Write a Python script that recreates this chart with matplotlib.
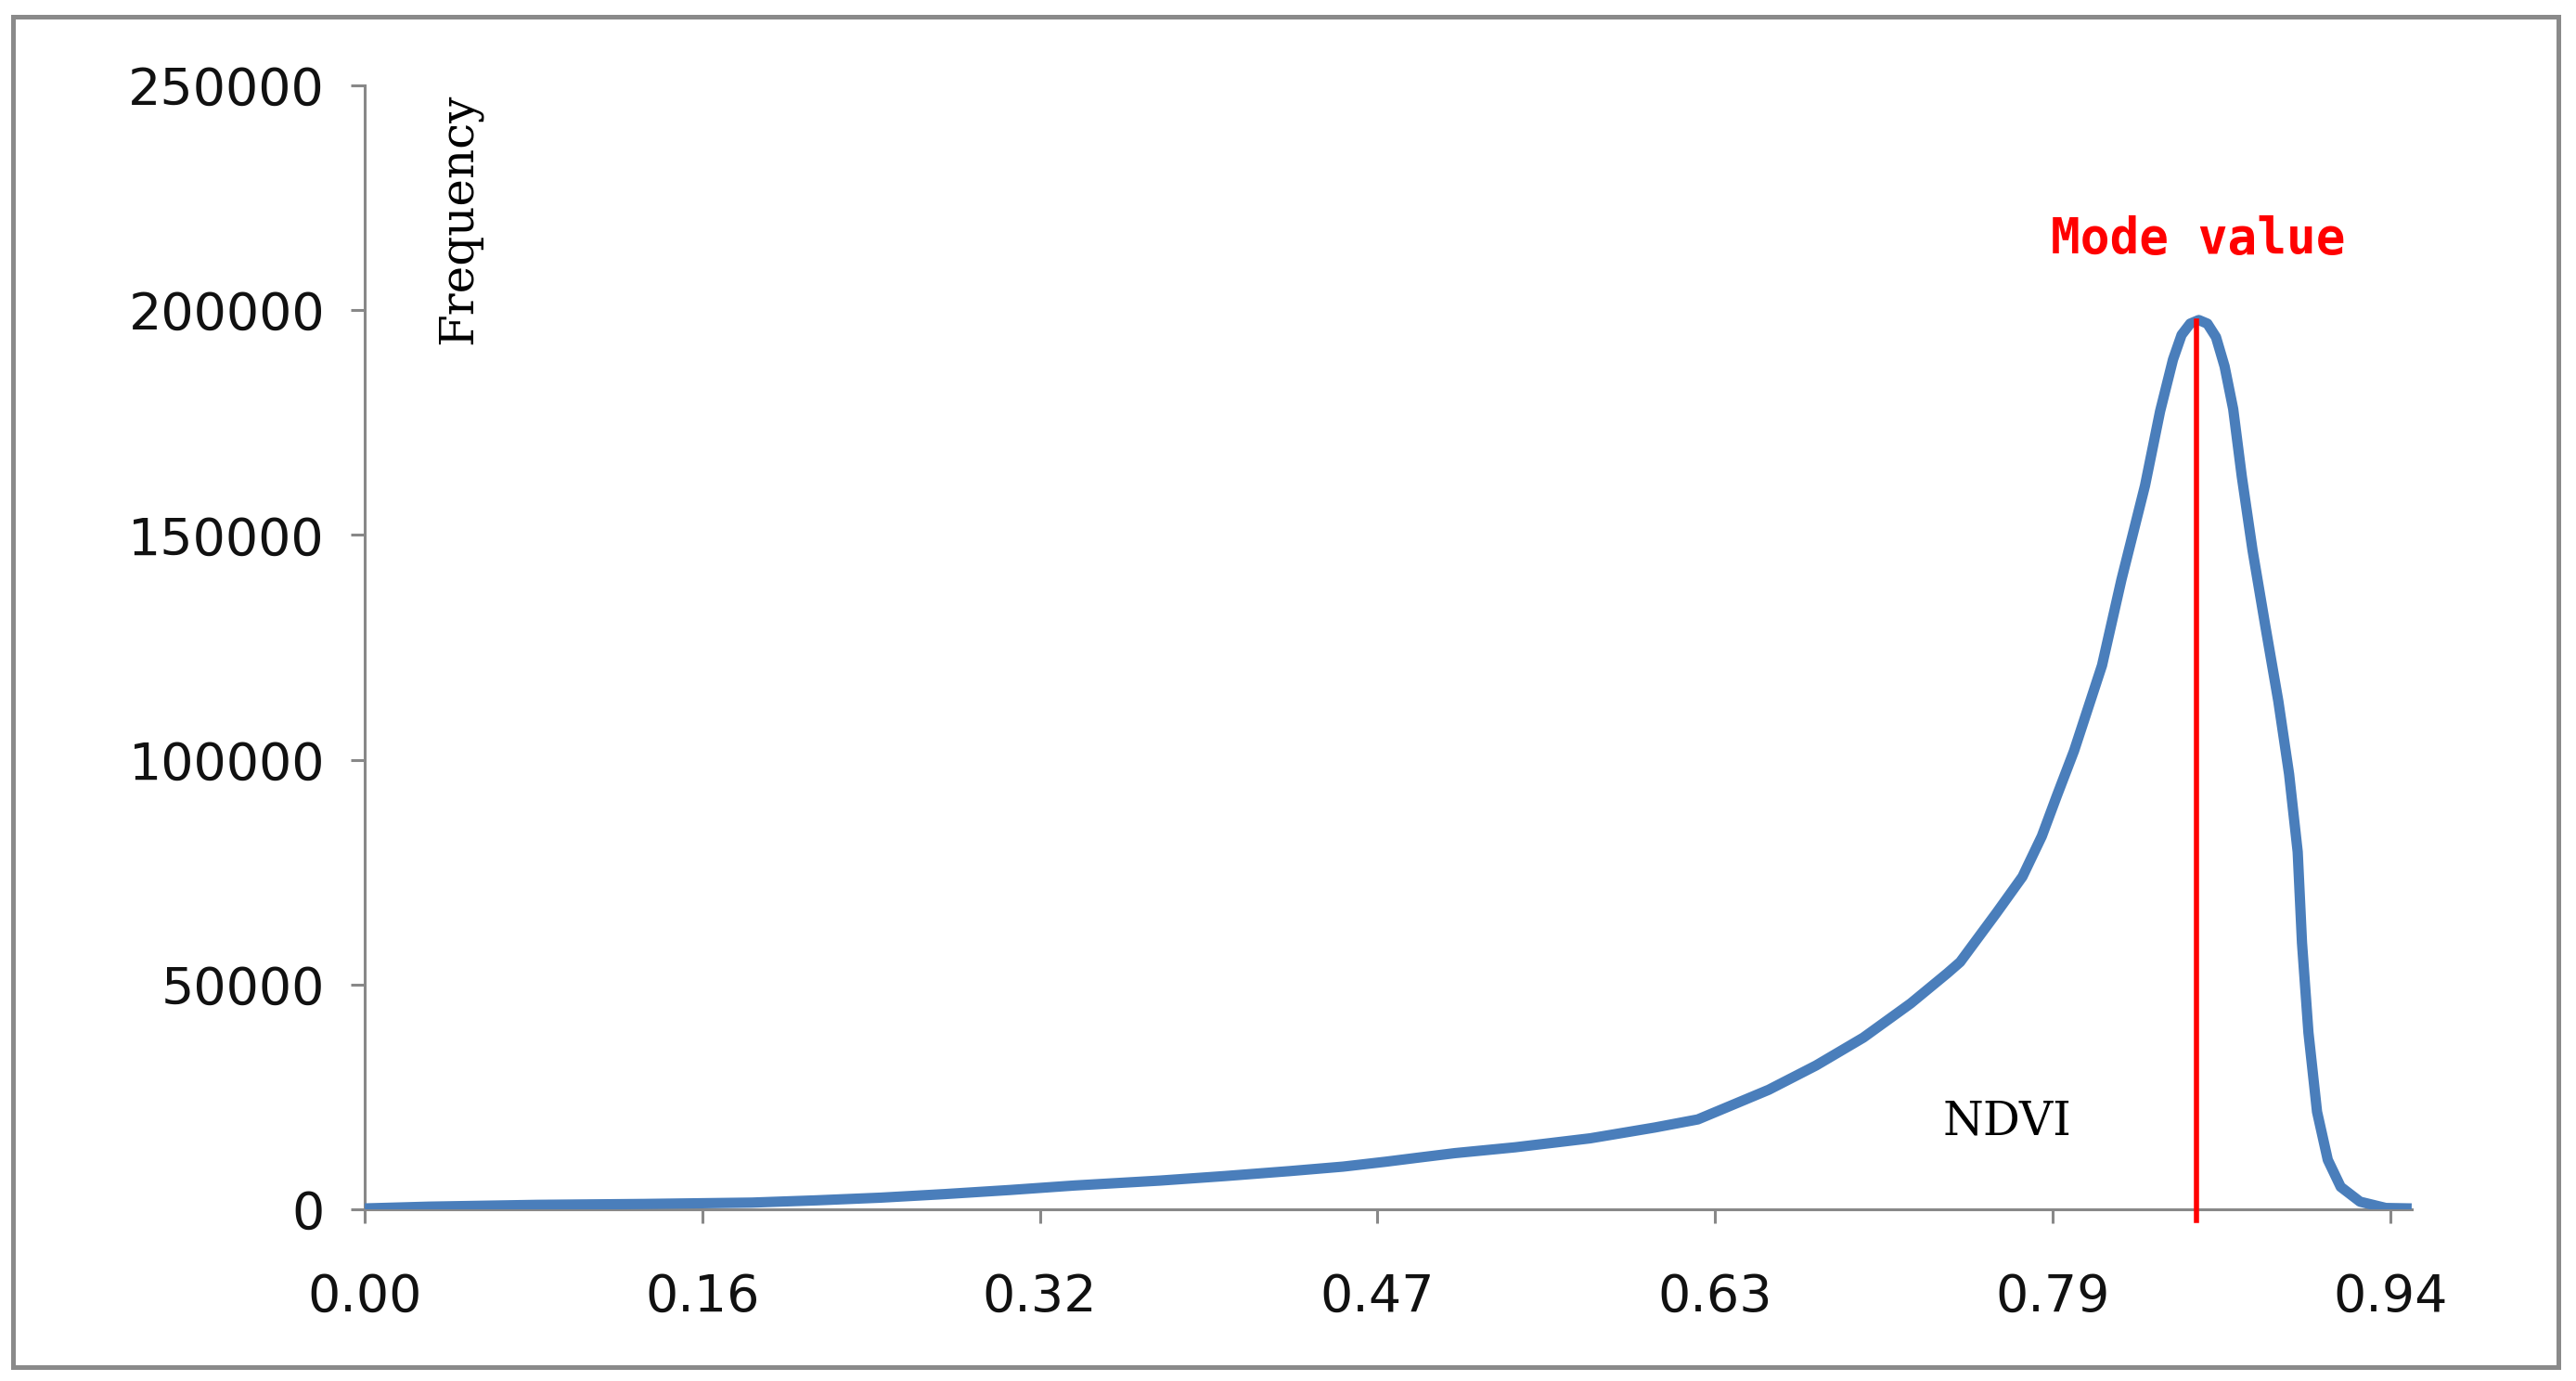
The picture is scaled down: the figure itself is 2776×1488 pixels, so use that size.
import matplotlib
matplotlib.use("Agg")
import matplotlib.pyplot as plt
from matplotlib.patches import Rectangle

# NDVI histogram
ndvi = [0.000, 0.030, 0.080, 0.130, 0.180, 0.210, 0.240, 0.270, 0.300, 0.330,
        0.370, 0.400, 0.430, 0.455, 0.475, 0.490, 0.507, 0.535, 0.570, 0.600,
        0.620, 0.635, 0.653, 0.675, 0.697, 0.719, 0.736, 0.742, 0.759, 0.771,
        0.780, 0.787, 0.795, 0.808, 0.817, 0.828, 0.835, 0.841, 0.845, 0.849,
        0.853, 0.857, 0.861, 0.865, 0.869, 0.873, 0.878, 0.884, 0.890, 0.895,
        0.899, 0.901, 0.904, 0.908, 0.913, 0.919, 0.928, 0.940, 0.952]
frequency = [200, 600, 1000, 1200, 1500, 2000, 2600, 3400, 4300, 5300,
             6400, 7400, 8500, 9500, 10600, 11500, 12500, 13800, 15800, 18200,
             20000, 23000, 26600, 32000, 38200, 45800, 52500, 55000, 66000, 74000,
             83000, 92000, 102000, 121000, 140000, 161000, 177500, 189000, 194500, 197000,
             197800, 197000, 194000, 187500, 178000, 163000, 146600, 129600, 113000, 96800,
             79500, 59300, 39300, 21700, 11000, 5000, 1700, 300, 200]

tick_pos = [0.0, 0.157, 0.314, 0.471, 0.628, 0.785, 0.942]
tick_labels = ["0.00", "0.16", "0.32", "0.47", "0.63", "0.79", "0.94"]
y_ticks = [0, 50000, 100000, 150000, 200000, 250000]
mode_x = 0.852
mode_y = 197500

fig = plt.figure(figsize=(13.88, 7.44), dpi=200)
fig.patch.set_facecolor("white")
fig.patches.append(Rectangle((0.005, 0.010), 0.988, 0.978, transform=fig.transFigure,
                             fill=False, edgecolor="#8a8a8a", linewidth=1.8))

ax = fig.add_axes([0.1416, 0.1243, 0.7946, 0.8139])
ax.plot(ndvi, frequency, color="#4A7EBB", linewidth=4.0, solid_joinstyle="round",
        solid_capstyle="butt", zorder=3)
ax.plot([mode_x, mode_x], [-2500, mode_y], color="#FF0000", linewidth=2.0,
        clip_on=False, zorder=4)

ax.set_xlim(0, 0.952)
ax.set_ylim(0, 250000)
ax.set_xticks(tick_pos)
ax.set_xticklabels(tick_labels)
ax.set_yticks(y_ticks)
ax.set_yticklabels([str(v) for v in y_ticks])

for s in ["top", "right"]:
    ax.spines[s].set_visible(False)
for s in ["left", "bottom"]:
    ax.spines[s].set_color("#888888")
    ax.spines[s].set_linewidth(1.1)
ax.tick_params(axis="both", direction="out", length=5.5, width=1.1, color="#888888",
               labelsize=20, labelcolor="#111111")
ax.tick_params(axis="x", pad=19)
ax.tick_params(axis="y", pad=10)
for lab in ax.get_xticklabels() + ax.get_yticklabels():
    lab.set_family("DejaVu Sans")

ax.text(0.0436, 220300, "Frequency", rotation=90, ha="center", va="center",
        fontsize=18, family="DejaVu Serif", color="black")
ax.text(0.764, 19400, "NDVI", ha="center", va="center",
        fontsize=18, family="DejaVu Serif", color="black")
ax.text(0.8528, 215700, "Mode value", ha="center", va="center",
        fontsize=19, family="DejaVu Sans Mono", fontweight="bold", color="#FF0000")

fig.savefig("out.png", dpi=200)
